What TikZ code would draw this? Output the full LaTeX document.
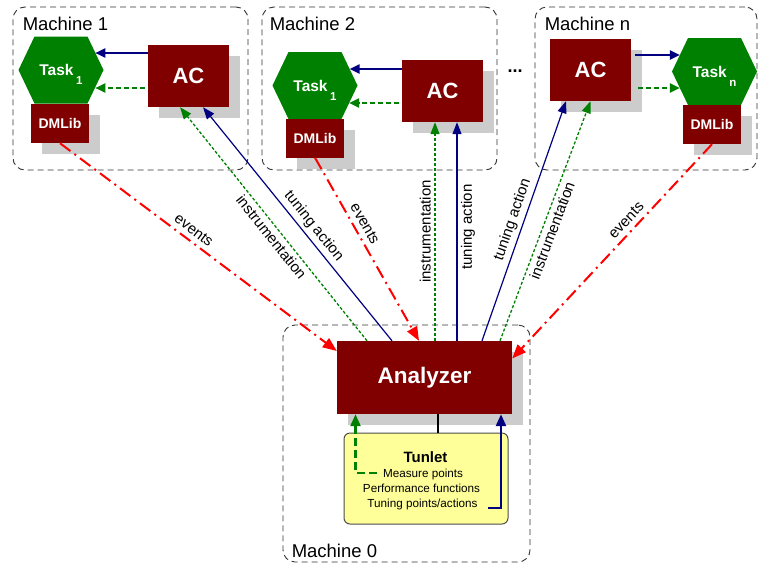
\documentclass[tikz,border=0pt]{standalone}
\usepackage{fontspec}
\setmainfont{Liberation Sans}
\usetikzlibrary{arrows.meta,calc,shadows}

\definecolor{acred}{HTML}{800000}
\definecolor{taskgreen}{HTML}{008000}
\definecolor{navyblue}{HTML}{000080}
\definecolor{evred}{HTML}{FF0000}
\definecolor{shadowgray}{HTML}{CCCCCC}
\definecolor{tunyellow}{HTML}{FFFF99}

% green task hexagon centred on a coordinate
\newcommand\taskhexagon[1]{\fill[taskgreen] ($(#1)+(-42.5,0)$) -- ++(16,-33.5) -- ++(53,0) -- ++(16,33.5) -- ++(-16,33.5) -- ++(-53,0) -- cycle;}
% lowered task index
\newcommand\tasksub[1]{\,\smash{\raisebox{-9pt}{\fontsize{11.5}{12}\selectfont #1}}}

\begin{document}
\begin{tikzpicture}[x=1pt,y=-1pt,
  machine/.style={draw=black!80, line width=0.9pt, dash pattern=on 6pt off 4pt, rounded corners=12pt, inner sep=0pt},
  machlabel/.style={anchor=base west, font=\fontsize{18.5}{20}\selectfont, inner sep=0pt},
  darkbox/.style={fill=acred, text=white, inner sep=0pt,
    drop shadow={shadow xshift=11pt, shadow yshift=-11pt, fill=shadowgray, opacity=1}},
  acbox/.style={darkbox, minimum width=81pt, minimum height=62pt, font=\fontsize{22}{24}\selectfont\bfseries},
  dmbox/.style={darkbox, minimum width=58pt, minimum height=39pt, font=\fontsize{14}{16}\selectfont\bfseries},
  tasktext/.style={text=white, inner sep=0pt, font=\fontsize{15.5}{17}\selectfont\bfseries},
  tuntext/.style={anchor=base, inner sep=0pt, font=\fontsize{11.7}{13}\selectfont},
  evarrow/.style={draw=evred, line width=2pt, dash pattern=on 13pt off 5pt on 2pt off 5pt,
    -{Triangle[length=14pt,width=11pt]}},
  tunearrow/.style={draw=navyblue, line width=1.2pt, -{Triangle[length=12pt,width=9pt]}},
  instarrow/.style={draw=taskgreen, line width=1.3pt, dash pattern=on 3pt off 2pt,
    -{Triangle[length=12pt,width=9pt]}},
  ctrlarrow/.style={draw=navyblue, line width=2pt, -{Triangle[length=10pt,width=9pt]}},
  instlocal/.style={draw=taskgreen, line width=2pt, dash pattern=on 5pt off 3pt,
    -{Triangle[length=10pt,width=9pt]}},
  lbl/.style={font=\fontsize{15}{17}\selectfont, sloped, inner sep=3.5pt}
]
\useasboundingbox (0,0) rectangle (759,568);

% machines
\node[machine, minimum width=235pt, minimum height=163pt] (M1) at (130.5,88.5) {};
\node[machine, minimum width=235pt, minimum height=163pt] (M2) at (379.5,88.5) {};
\node[machine, minimum width=222pt, minimum height=163pt] (Mn) at (646,88.5) {};
\node[machine, minimum width=247pt, minimum height=237pt] (M0) at (406.5,443.5) {};
\node[machlabel] (M1l) at ($(M1.north west)+(10,24)$) {Machine 1};
\node[machlabel] (M2l) at ($(M2.north west)+(8,24)$) {Machine 2};
\node[machlabel] (Mnl) at ($(Mn.north west)+(10,24)$) {Machine n};
\node[machlabel] (M0l) at ($(M0.south west)+(9,-5)$) {Machine 0};
\node[anchor=base, inner sep=0pt, font=\fontsize{18}{20}\selectfont\bfseries] (dots) at (515,72) {...};

% tasks
\coordinate (T1c) at (61,70);
\coordinate (T2c) at (315,85.5);
\coordinate (Tnc) at (714.5,71.5);
\taskhexagon{T1c}
\taskhexagon{T2c}
\taskhexagon{Tnc}
\node[tasktext] (T1) at (T1c) {Task\tasksub{1}};
\node[tasktext] (T2) at (T2c) {Task\tasksub{1}};
\node[tasktext] (Tn) at (Tnc) {Task\tasksub{n}};

% monitoring libraries
\node[dmbox] (DM1) at (60,123.5) {DMLib};
\node[dmbox] (DM2) at (315,138) {DMLib};
\node[dmbox] (DMn) at (712,124.5) {DMLib};

% tuning controllers
\node[acbox] (AC1) at (188.5,76) {AC};
\node[acbox] (AC2) at (442.5,91) {AC};
\node[acbox] (ACn) at (590.5,70) {AC};

% analyzer and tunlet
\node[darkbox, minimum width=175pt, minimum height=73pt, font=\fontsize{22.5}{24}\selectfont\bfseries] (An) at (424.5,377.5) {Analyzer};
\node[draw=black!70, line width=1pt, fill=tunyellow, rounded corners=6pt, minimum width=164pt, minimum height=91pt] (Tun) at (426,478.5) {};
\node[anchor=base, inner sep=0pt, font=\fontsize{15}{17}\selectfont\bfseries] (tunTitle) at (425.5,462) {Tunlet};
\node[tuntext] (tunMeas) at (423,477) {Measure points};
\node[tuntext] (tunPerf) at (421.5,492) {Performance functions};
\node[tuntext] (tunTune) at (422.5,507) {Tuning points/actions};
\draw[line width=2pt] ($(An.south)+(13.5,0)$) -- ($(Tun.north)+(12,0)$);
\draw[draw=taskgreen, line width=2.5pt, dash pattern=on 8pt off 4pt, -{Triangle[length=12pt,width=10pt]}]
  ($(tunMeas.base west)+(-6,-4)$) -| ($(An.south)+(-69,0)$);
\draw[draw=navyblue, line width=2.5pt, -{Triangle[length=12pt,width=10pt]}]
  ($(tunTune.base east)+(10,1)$) -| ($(An.south)+(76.5,0)$);

% controller to task
\coordinate (T1a) at ($(T1c)+(34.3,-17)$);
\coordinate (T1b) at ($(T1c)+(34.3,18)$);
\coordinate (T2a) at ($(T2c)+(34.6,-16.5)$);
\coordinate (T2b) at ($(T2c)+(34.1,17.5)$);
\coordinate (Tna) at ($(Tnc)+(-34.6,-16.5)$);
\coordinate (Tnb) at ($(Tnc)+(-34.6,16.5)$);
\draw[ctrlarrow] (AC1.west |- T1a) -- (T1a);
\draw[instlocal] ($(AC1.west |- T1b)+(-3,0)$) -- (T1b);
\draw[ctrlarrow] (AC2.west |- T2a) -- (T2a);
\draw[instlocal] ($(AC2.west |- T2b)+(-3,0)$) -- (T2b);
\draw[ctrlarrow] ($(ACn.east |- Tna)+(4,0)$) -- (Tna);
\draw[instlocal] ($(ACn.east |- Tnb)+(7,0)$) -- (Tnb);

% events
\draw[evarrow] (DM1.south) -- node[lbl, above, pos=0.46, inner sep=5pt] {events} ($(An.west)+(0,-26.5)$);
\draw[evarrow] (DM2.south) -- node[lbl, above, pos=0.39, inner sep=5pt] {events} ($(An.north)+(-5.5,0)$);
\draw[evarrow] (DMn.south) -- node[lbl, above, pos=0.39, inner sep=5pt] {events} ($(An.east)+(0,-19)$);

% tuning actions and instrumentation
\draw[tunearrow] ($(An.north)+(-32.5,0)$) -- node[lbl, above, pos=0.46] {tuning action} ($(AC1.south)+(14.5,0)$);
\draw[instarrow] ($(An.north)+(-57.5,0)$) -- node[lbl, below, pos=0.47] {instrumentation} ($(AC1.south)+(-8.5,0)$);
\draw[tunearrow] ($(An.north)+(32.5,0)$) -- node[lbl, below, pos=0.52] {tuning action} ($(AC2.south)+(14.5,0)$);
\draw[instarrow] ($(An.north)+(10.5,0)$) -- node[lbl, above, pos=0.5] {instrumentation} ($(AC2.south)+(-7.5,0)$);
\draw[tunearrow] ($(An.north)+(57.5,0)$) -- node[lbl, above, pos=0.49] {tuning action} ($(ACn.south)+(-24.5,0)$);
\draw[instarrow] ($(An.north)+(75.5,0)$) -- node[lbl, below, pos=0.475] {instrumentation} (ACn.south);
\end{tikzpicture}
\end{document}
